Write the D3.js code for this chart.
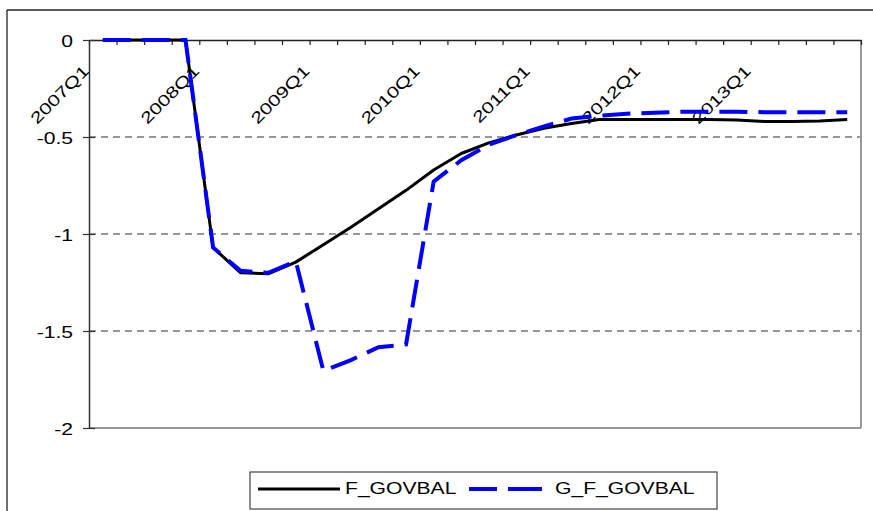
<!DOCTYPE html>
<html>
<head>
<meta charset="utf-8">
<script src="https://cdn.jsdelivr.net/npm/d3@7/dist/d3.min.js"></script>
<style>
  body { margin: 0; background: #fff; }
  svg { display: block; font-family: "Liberation Sans", Arial, sans-serif; }
</style>
</head>
<body>
<svg id="chart" width="873" height="511"></svg>
<script>
// categories (quarters) and the two series
var quarters = ["2007Q1","2007Q2","2007Q3","2007Q4",
                "2008Q1","2008Q2","2008Q3","2008Q4",
                "2009Q1","2009Q2","2009Q3","2009Q4",
                "2010Q1","2010Q2","2010Q3","2010Q4",
                "2011Q1","2011Q2","2011Q3","2011Q4",
                "2012Q1","2012Q2","2012Q3","2012Q4",
                "2013Q1","2013Q2","2013Q3","2013Q4"];

var fGovbal = [0, 0, 0, 0,
               -1.07, -1.20, -1.205, -1.145,
               -1.055, -0.965, -0.87, -0.775,
               -0.67, -0.585, -0.53, -0.49,
               -0.455, -0.43, -0.41, -0.41,
               -0.41, -0.41, -0.41, -0.412,
               -0.42, -0.42, -0.418, -0.41];

var gFGovbal = [0, 0, 0, 0,
                -1.07, -1.19, -1.20, -1.14,
                -1.705, -1.65, -1.584, -1.569,
                -0.73, -0.62, -0.54, -0.49,
                -0.445, -0.405, -0.39, -0.38,
                -0.375, -0.37, -0.37, -0.37,
                -0.372, -0.372, -0.372, -0.372];

var yTicks = [0, -0.5, -1, -1.5, -2];
var yTickLabels = ["0", "-0.5", "-1", "-1.5", "-2"];
var seriesNames = ["F_GOVBAL", "G_F_GOVBAL"];

var margin = {top: 40, right: 12, bottom: 83, left: 89},
    width = 873 - margin.left - margin.right,
    height = 511 - margin.top - margin.bottom;

var stretch = 1.32; // text in the picture is drawn wide

var svg = d3.select("#chart");

// outer chart frame (only top and left edges show)
svg.append("line").attr("x1", 7).attr("y1", 10).attr("x2", 873).attr("y2", 10)
  .attr("stroke", "#222").attr("stroke-width", 1.3);
svg.append("line").attr("x1", 7).attr("y1", 10).attr("x2", 7).attr("y2", 511)
  .attr("stroke", "#222").attr("stroke-width", 1.3);

var g = svg.append("g")
  .attr("transform", "translate(" + margin.left + "," + margin.top + ")");

var x = d3.scaleBand().domain(quarters).range([0, width]).padding(0);
var xi = d3.scaleLinear().domain([0, quarters.length]).range([0, width]);
var y = d3.scaleLinear().domain([-2, 0]).range([height, 0]);

// gridlines
g.selectAll(".grid")
  .data(yTicks.filter(function (d) { return d !== 0 && d !== -2; }))
  .enter().append("line")
    .attr("x1", 0).attr("x2", width)
    .attr("y1", function (d) { return y(d); })
    .attr("y2", function (d) { return y(d); })
    .attr("stroke", "#777").attr("stroke-width", 1.3)
    .attr("stroke-dasharray", "7,5");

// right and bottom plot border
g.append("line").attr("x1", width).attr("x2", width).attr("y1", 0).attr("y2", height)
  .attr("stroke", "#999").attr("stroke-width", 2);
g.append("line").attr("x1", 0).attr("x2", width).attr("y1", height).attr("y2", height)
  .attr("stroke", "#999").attr("stroke-width", 2);

// x axis along the zero line, ticks between categories
var xAxis = d3.axisBottom(xi)
  .tickValues(d3.range(quarters.length + 1))
  .tickSize(5).tickSizeOuter(0)
  .tickFormat("");
var xg = g.append("g").attr("class", "x axis").call(xAxis);
xg.select(".domain").attr("stroke", "#222").attr("stroke-width", 1.5);
xg.selectAll(".tick line").attr("stroke", "#222").attr("stroke-width", 1.2);

// y axis
var yAxis = d3.axisLeft(y)
  .tickValues(yTicks)
  .tickSize(6).tickSizeOuter(0)
  .tickFormat(function (d, i) { return yTickLabels[i]; });
var yg = g.append("g").attr("class", "y axis").call(yAxis);
yg.select(".domain").attr("stroke", "#333").attr("stroke-width", 1.5);
yg.selectAll(".tick line").attr("x1", 6).attr("stroke", "#333").attr("stroke-width", 1.2);
yg.selectAll(".tick text")
  .attr("x", null).attr("dy", null)
  .attr("text-anchor", "end")
  .attr("transform", "translate(-16,6) scale(" + stretch + ",1)")
  .attr("font-size", 16).attr("font-family", "Liberation Sans, Arial, sans-serif")
  .attr("fill", "#000");

// rotated category labels (every Q1)
g.selectAll(".qlabel")
  .data(quarters.filter(function (q) { return /Q1$/.test(q); }))
  .enter().append("text")
    .attr("class", "qlabel")
    .attr("text-anchor", "end")
    .attr("font-size", 16)
    .attr("transform", function (q) {
      return "translate(" + (x(q) + 1) + ",32) rotate(-45) scale(" + stretch + ",1)";
    })
    .text(function (q) { return q; });

// series lines
var line = d3.line()
  .x(function (d, i) { return x(quarters[i]) + x.bandwidth() / 2; })
  .y(function (d) { return y(d); });

g.append("path").datum(fGovbal)
  .attr("fill", "none").attr("stroke", "#000").attr("stroke-width", 3)
  .attr("stroke-linejoin", "round")
  .attr("d", line);

g.append("path").datum(gFGovbal)
  .attr("fill", "none").attr("stroke", "#0000ff").attr("stroke-width", 4)
  .attr("stroke-dasharray", "28,11")
  .attr("d", line);

// legend
var lg = svg.append("g");
lg.append("rect").attr("x", 250).attr("y", 472).attr("width", 467).attr("height", 37)
  .attr("fill", "#fff").attr("stroke", "#444").attr("stroke-width", 1.2);
lg.append("line").attr("x1", 258).attr("x2", 340).attr("y1", 489).attr("y2", 489)
  .attr("stroke", "#000").attr("stroke-width", 3);
lg.append("text").attr("font-size", 16)
  .attr("transform", "translate(345,494) scale(" + stretch + ",1)")
  .text(seriesNames[0]);
lg.append("line").attr("x1", 469).attr("x2", 542).attr("y1", 489).attr("y2", 489)
  .attr("stroke", "#0000ff").attr("stroke-width", 4)
  .attr("stroke-dasharray", "28,11,34");
lg.append("text").attr("font-size", 16)
  .attr("transform", "translate(555,494) scale(" + stretch + ",1)")
  .text(seriesNames[1]);
</script>
</body>
</html>
